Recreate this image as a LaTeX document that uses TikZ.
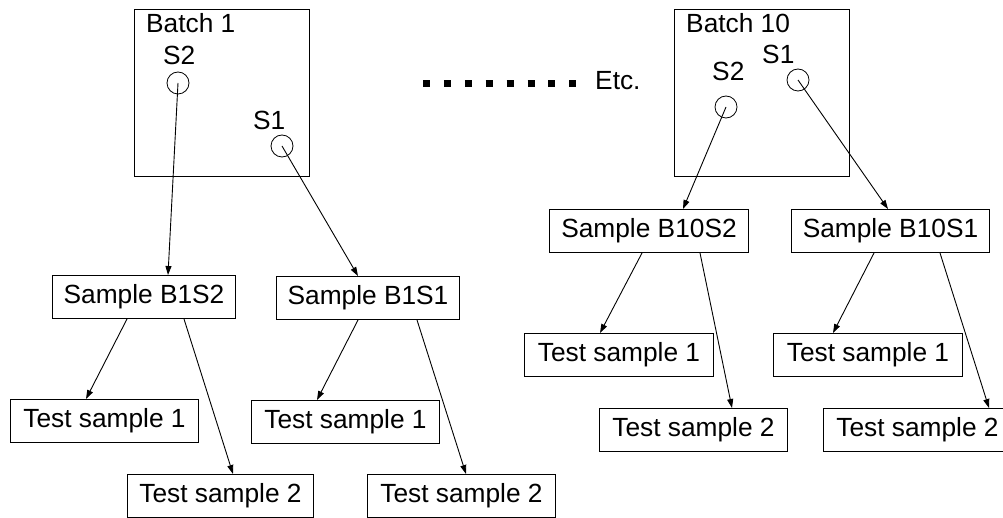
\documentclass[tikz,border=0pt]{standalone}
\usepackage{fontspec}
\setmainfont{Liberation Sans}
\usetikzlibrary{arrows.meta}
\begin{document}
\begin{tikzpicture}[x=1pt,y=-1pt,
  every node/.style={font=\fontsize{26.3}{31}\selectfont},
  box/.style={draw,line width=1pt,anchor=north west,inner sep=0,minimum height=43pt},
  batchbox/.style={draw,line width=1.2pt,anchor=north west,inner sep=0,minimum width=175pt,minimum height=167pt},
  spot/.style={draw,circle,line width=0.8pt,inner sep=0,minimum size=22pt},
  lbl/.style={anchor=base west,inner sep=0},
  link/.style={line width=0.9pt,-{Triangle[length=9pt,width=6pt]}}]
\useasboundingbox (0,0) rectangle (1003,518);
% Batch 1
\node[batchbox] (batch1) at (134,9) {};
\node[lbl] (batch1lbl) at (146,33) {Batch 1};
\node[lbl] (b1s2lbl) at (163,65) {S2};
\node[spot] (b1s2) at (178,83) {};
\node[lbl] (b1s1lbl) at (253,130) {S1};
\node[spot] (b1s1) at (282,146) {};
% Batch 10
\node[batchbox] (batch10) at (674,9) {};
\node[lbl] (batch10lbl) at (686,33) {Batch 10};
\node[lbl] (b10s1lbl) at (762,64) {S1};
\node[spot] (b10s1) at (798,80) {};
\node[lbl] (b10s2lbl) at (712,81) {S2};
\node[spot] (b10s2) at (726,107) {};
% dots and Etc.
\draw[line width=7pt,dash pattern=on 7pt off 13.9pt] (423,84) -- (577,84);
\node[lbl] (etc) at (595,90) {Etc.};
% sample boxes
\node[box,minimum width=183pt] (sb1s2) at (52,275) {Sample B1S2};
\node[box,minimum width=183pt] (sb1s1) at (276,276) {Sample B1S1};
\node[box,minimum width=199pt] (sb10s2) at (549,209) {Sample B10S2};
\node[box,minimum width=198pt] (sb10s1) at (791,209) {Sample B10S1};
% test boxes
\node[box,minimum width=188pt] (t1a) at (10,399) {Test sample 1};
\node[box,minimum width=186pt] (t2a) at (127,474) {Test sample 2};
\node[box,minimum width=188pt] (t1b) at (251,400) {Test sample 1};
\node[box,minimum width=188pt] (t2b) at (367,474) {Test sample 2};
\node[box,minimum width=189pt] (t1c) at (524,333) {Test sample 1};
\node[box,minimum width=188pt] (t2c) at (599,408) {Test sample 2};
\node[box,minimum width=189pt] (t1d) at (773,333) {Test sample 1};
\node[box,minimum width=188pt] (t2d) at (823,408) {Test sample 2};
% connectors
\draw[link] (b1s2.center) -- ([xshift=116pt]sb1s2.north west);
\draw[link] (b1s1.center) -- ([xshift=82pt]sb1s1.north west);
\draw[link] (b10s2.center) -- ([xshift=134pt]sb10s2.north west);
\draw[link] (b10s1.center) -- ([xshift=97pt]sb10s1.north west);
\draw[link] ([xshift=75pt]sb1s2.south west) -- ([xshift=76pt]t1a.north west);
\draw[link] ([xshift=132pt]sb1s2.south west) -- ([xshift=106pt]t2a.north west);
\draw[link] ([xshift=82pt]sb1s1.south west) -- ([xshift=66pt]t1b.north west);
\draw[link] ([xshift=141pt]sb1s1.south west) -- ([xshift=99pt]t2b.north west);
\draw[link] ([xshift=93pt]sb10s2.south west) -- ([xshift=76pt]t1c.north west);
\draw[link] ([xshift=151pt]sb10s2.south west) -- ([xshift=133pt]t2c.north west);
\draw[link] ([xshift=83pt]sb10s1.south west) -- ([xshift=60pt]t1d.north west);
\draw[link] ([xshift=149pt]sb10s1.south west) -- ([xshift=166pt]t2d.north west);
\end{tikzpicture}
\end{document}
